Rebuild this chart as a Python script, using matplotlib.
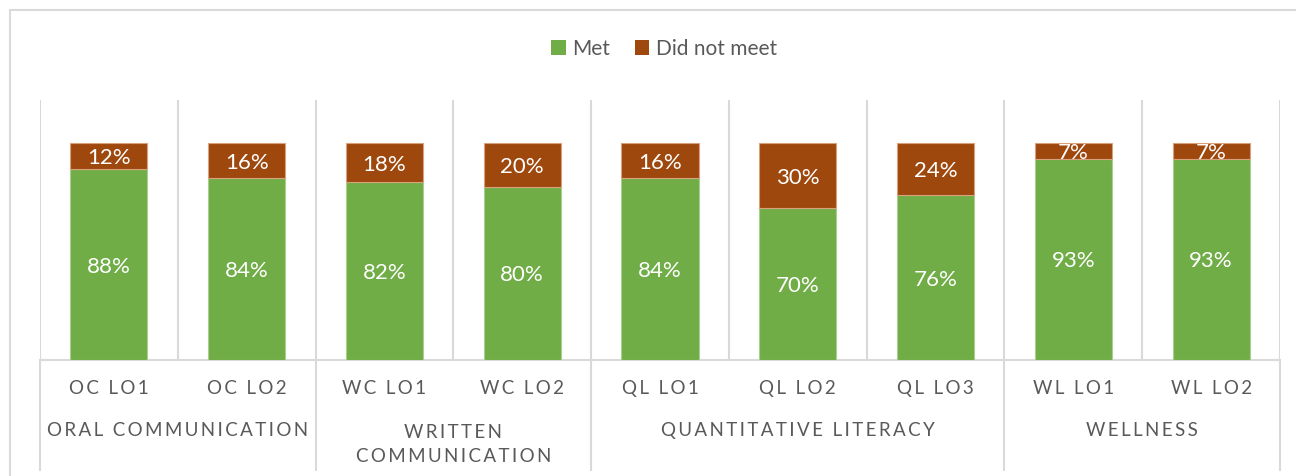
import numpy as np
import matplotlib.pyplot as plt
from matplotlib.lines import Line2D
from matplotlib.patches import Patch
from matplotlib.transforms import offset_copy

categories = ['OC LO1', 'OC LO2', 'WC LO1', 'WC LO2', 'QL LO1', 'QL LO2', 'QL LO3', 'WL LO1', 'WL LO2']
groups = ['ORAL COMMUNICATION', 'WRITTEN\nCOMMUNICATION', 'QUANTITATIVE LITERACY', 'WELLNESS']
group_sizes = [2, 2, 3, 2]
met = [88, 84, 82, 80, 84, 70, 76, 93, 93]
not_met = [12, 16, 18, 20, 16, 30, 24, 7, 7]

GREEN = '#70AD47'
BROWN = '#9E480E'
GRID = '#D9D9D9'
TXT = '#595959'

plt.rcParams['font.family'] = ['Lato', 'DejaVu Sans']


def spaced(s, sp='\u2009'):
    # fake letter spacing like the excel axis labels
    return '\n'.join(sp.join(list(line)) for line in s.split('\n'))


W, H = 1296, 476
fig = plt.figure(figsize=(W / 100, H / 100), dpi=100)
ax = fig.add_axes([40 / W, 116 / H, 1240 / W, 260 / H])

x = np.arange(len(categories))
met_f = np.array(met) / 100
not_f = np.array(not_met) / 100

ax.bar(x, met_f, width=0.56, color=GREEN, edgecolor='#A9CF8F', linewidth=0.8, zorder=3)
ax.bar(x, not_f, width=0.56, bottom=met_f, color=BROWN, edgecolor='#D9A27E', linewidth=0.8, zorder=3)

# nudge labels a touch down, lato sits a bit high compared to calibri
lab_tr = offset_copy(ax.transData, fig=fig, x=0, y=-2, units='dots')
for i in range(len(categories)):
    ax.text(x[i], met_f[i] / 2, f'{met[i]}%', ha='center', va='center', color='white',
            fontsize=16, zorder=4, transform=lab_tr)
    ax.text(x[i], met_f[i] + not_f[i] / 2, f'{not_met[i]}%', ha='center', va='center', color='white',
            fontsize=16, zorder=4, transform=lab_tr)

ax.set_xlim(-0.5, len(categories) - 0.5)
ax.set_ylim(0, 1.2)
ax.vlines(np.arange(len(categories) + 1) - 0.5, 0, 1.2, color=GRID, lw=1.5, zorder=1)

for s in ['top', 'left', 'right']:
    ax.spines[s].set_visible(False)
ax.spines['bottom'].set_color(GRID)
ax.spines['bottom'].set_linewidth(1.5)
ax.set_xticks([])
ax.set_yticks([])

trans = ax.get_xaxis_transform()
for i, c in enumerate(categories):
    ax.text(x[i], -0.11, spaced(c), transform=trans, ha='center', va='center', fontsize=13.5, color=TXT)

# group labels and separators below the axis
edges = np.concatenate([[0], np.cumsum(group_sizes)]) - 0.5
for e in edges:
    ax.plot([e, e], [0, -0.423], transform=trans, color=GRID, lw=1.5, clip_on=False)
for g, lo, hi in zip(groups, edges[:-1], edges[1:]):
    yy = -0.325 if '\n' in g else -0.271
    ax.text((lo + hi) / 2, yy, spaced(g), transform=trans, ha='center', va='center',
            fontsize=13.5, color=TXT, linespacing=1.55)

handles = [Patch(facecolor=GREEN), Patch(facecolor=BROWN)]
fig.legend(handles, ['Met', 'Did not meet'], loc='center', bbox_to_anchor=(664 / W, 1 - 49 / H),
           ncol=2, frameon=False, fontsize=15, labelcolor=TXT, handlelength=0.7, handleheight=0.7,
           handletextpad=0.3, columnspacing=1.2)

# chart area border (only top and left visible)
fig.add_artist(Line2D([10 / W, 10 / W, 1], [0, 1 - 10 / H, 1 - 10 / H], color=GRID, lw=1.5))

fig.savefig('out.png', dpi=100)
